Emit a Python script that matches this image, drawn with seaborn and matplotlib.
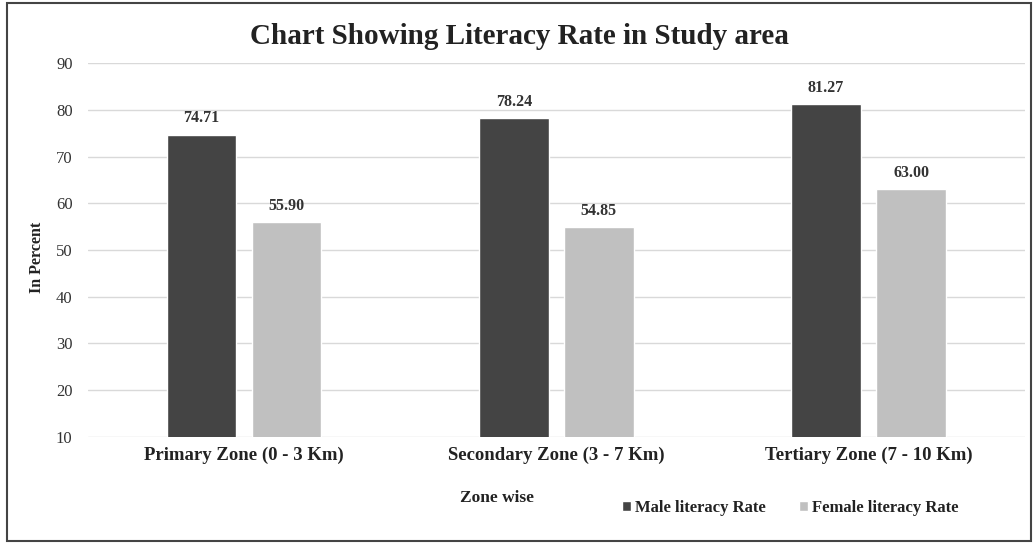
import pandas as pd
import seaborn as sns
import matplotlib.pyplot as plt
from matplotlib.patches import Rectangle

# datos del gráfico
zones = ["Primary Zone (0 - 3 Km)", "Secondary Zone (3 - 7 Km)", "Tertiary Zone (7 - 10 Km)"]
male_rate = [74.71, 78.24, 81.27]
female_rate = [55.90, 54.85, 63.00]
series = ["Male literacy Rate", "Female literacy Rate"]

df = pd.DataFrame({
    "Zone": zones * 2,
    "Rate": male_rate + female_rate,
    "Series": [series[0]] * 3 + [series[1]] * 3,
})

sns.set_theme(style="white")
plt.rcParams['font.family'] = ['Liberation Serif', 'DejaVu Serif']

fig = plt.figure(figsize=(10.33, 5.44), dpi=100)
ax = fig.add_axes([0.085, 0.197, 0.907, 0.687])

sns.barplot(data=df, x="Zone", y="Rate", hue="Series", order=zones, hue_order=series,
            palette=["#444444", "#c0c0c0"], width=0.545, gap=0.18, saturation=1,
            legend=True, ax=ax)

for c in ax.containers:
    ax.bar_label(c, fmt="%.2f", padding=6, fontsize=11.5, fontweight="bold", color="#333333")

ax.set_ylim(10, 90)
ax.set_yticks(range(10, 91, 10))
ax.set_xlim(-0.5, 2.5)
ax.yaxis.grid(True, color="#d9d9d9", linewidth=1)
ax.set_axisbelow(True)
for s in ax.spines.values():
    s.set_visible(False)
ax.tick_params(axis="y", labelsize=12, colors="#333333", length=0, pad=11)
ax.tick_params(axis="x", length=0, pad=7)
for lbl in ax.get_xticklabels():
    lbl.set_fontsize(13.5)
    lbl.set_fontweight("bold")
    lbl.set_color("#222222")
ax.set_xlabel("")
ax.set_ylabel("In Percent", fontsize=11.5, fontweight="bold", color="#222222")
ax.yaxis.set_label_coords(-0.046, 0.48)

ax.get_legend().remove()
handles, labels = ax.get_legend_handles_labels()
fig.legend(handles, labels, loc="center", bbox_to_anchor=(0.765, 0.066), ncol=2, frameon=False,
           prop={"size": 12, "weight": "bold"}, handlelength=0.55, handleheight=0.55,
           handletextpad=0.25, columnspacing=2.0, labelcolor="#222222")

fig.text(0.481, 0.085, "Zone wise", fontsize=12.5, fontweight="bold", ha="center", va="center",
         color="#222222")
fig.text(0.503, 0.932, "Chart Showing Literacy Rate in Study area", fontsize=21,
         fontweight="bold", ha="center", va="center", color="#222222")

fig.add_artist(Rectangle((0.007, 0.006), 0.991, 0.988, transform=fig.transFigure,
                         fill=False, edgecolor="#444444", linewidth=1.5))

fig.savefig("out.png", dpi=100)
